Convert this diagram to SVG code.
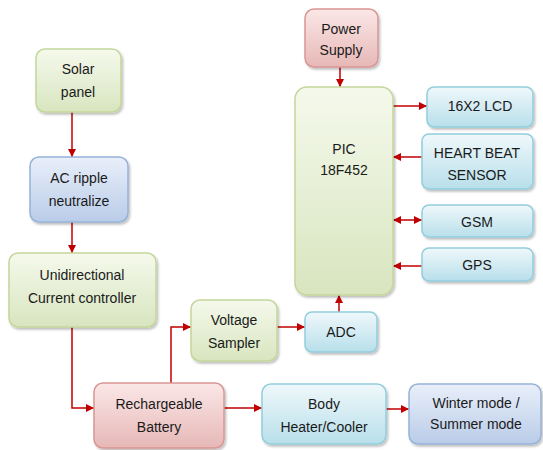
<svg xmlns="http://www.w3.org/2000/svg" width="543" height="450" viewBox="0 0 543 450">
<defs>
<linearGradient id="gG" x1="0" y1="0" x2="0" y2="1"><stop offset="0" stop-color="#f5f9ec"/><stop offset="1" stop-color="#d8e5bf"/></linearGradient>
<linearGradient id="gB" x1="0" y1="0" x2="0" y2="1"><stop offset="0" stop-color="#e9effa"/><stop offset="1" stop-color="#b9cce8"/></linearGradient>
<linearGradient id="gR" x1="0" y1="0" x2="0" y2="1"><stop offset="0" stop-color="#fbe7e7"/><stop offset="1" stop-color="#e6b8b7"/></linearGradient>
<linearGradient id="gC" x1="0" y1="0" x2="0" y2="1"><stop offset="0" stop-color="#eff8fb"/><stop offset="1" stop-color="#b8dfea"/></linearGradient>
<filter id="sh" x="-10%" y="-10%" width="130%" height="130%"><feDropShadow dx="1.5" dy="2" stdDeviation="1.2" flood-color="#000" flood-opacity="0.25"/></filter>
<marker id="ah" viewBox="0 0 10 10" refX="10" refY="5" markerWidth="8" markerHeight="8" markerUnits="userSpaceOnUse" orient="auto-start-reverse"><path d="M0,0 L10,5 L0,10 Z" fill="#c00000"/></marker>
</defs>
<style>
.n rect{filter:url(#sh);stroke-width:1.5}
.g rect{fill:url(#gG);stroke:#c3d69b}
.b rect{fill:url(#gB);stroke:#95b3d7}
.r rect{fill:url(#gR);stroke:#d99694}
.c rect{fill:url(#gC);stroke:#93cddd}
text{font-family:"Liberation Sans",Arial,sans-serif;font-size:14px;fill:#1a1a1a;text-anchor:middle}
#edges path{fill:none;stroke:#c00000;stroke-width:1.5;marker-end:url(#ah)}
</style>
<g id="edges">
<path d="M72,112 V157"/>
<path d="M72,222 V253"/>
<path d="M72,327 V408 H94"/>
<path d="M171,383 V327 H191"/>
<path d="M277,327 H305"/>
<path d="M339,312 V295"/>
<path d="M224,408 H262"/>
<path d="M386,409 H409"/>
<path d="M340,67 V87"/>
<path d="M393,106 H427"/>
<path d="M422,157 H393"/>
<path d="M422,220 H393" style="marker-start:url(#ah)"/>
<path d="M422,266 H393"/>
</g>
<g id="solar" class="n g"><rect x="36" y="49" width="85" height="63" rx="9"/><text x="78" y="74">Solar</text><text x="78" y="97">panel</text></g>
<g id="acripple" class="n b"><rect x="30" y="157" width="98" height="65" rx="9"/><text x="79" y="183">AC ripple</text><text x="79" y="206">neutralize</text></g>
<g id="unidir" class="n g"><rect x="9" y="253" width="147" height="74" rx="9"/><text x="82" y="280">Unidirectional</text><text x="82" y="303">Current controller</text></g>
<g id="battery" class="n r"><rect x="94" y="383" width="130" height="65" rx="9"/><text x="159" y="409">Rechargeable</text><text x="159" y="432">Battery</text></g>
<g id="sampler" class="n g"><rect x="191" y="300" width="86" height="61" rx="9"/><text x="234" y="325">Voltage</text><text x="234" y="348">Sampler</text></g>
<g id="adc" class="n c"><rect x="305" y="312" width="72" height="40" rx="7"/><text x="341" y="337">ADC</text></g>
<g id="heater" class="n c"><rect x="262" y="384" width="124" height="60" rx="9"/><text x="324" y="409">Body</text><text x="324" y="432">Heater/Cooler</text></g>
<g id="mode" class="n b"><rect x="409" y="384" width="132" height="60" rx="9"/><text x="476" y="408">Winter mode /</text><text x="476" y="429">Summer mode</text></g>
<g id="power" class="n r"><rect x="305" y="9" width="73" height="58" rx="9"/><text x="341" y="34">Power</text><text x="341" y="55">Supply</text></g>
<g id="pic" class="n g"><rect x="295" y="87" width="98" height="208" rx="12"/><text x="344" y="154">PIC</text><text x="344" y="175">18F452</text></g>
<g id="lcd" class="n c"><rect x="427" y="87" width="106" height="40" rx="7"/><text x="480" y="111">16X2 LCD</text></g>
<g id="heart" class="n c"><rect x="422" y="134" width="111" height="55" rx="7"/><text x="477" y="158">HEART BEAT</text><text x="477" y="180">SENSOR</text></g>
<g id="gsm" class="n c"><rect x="422" y="205" width="111" height="32" rx="7"/><text x="477" y="227">GSM</text></g>
<g id="gps" class="n c"><rect x="422" y="248" width="111" height="33" rx="7"/><text x="477" y="270">GPS</text></g>
</svg>
